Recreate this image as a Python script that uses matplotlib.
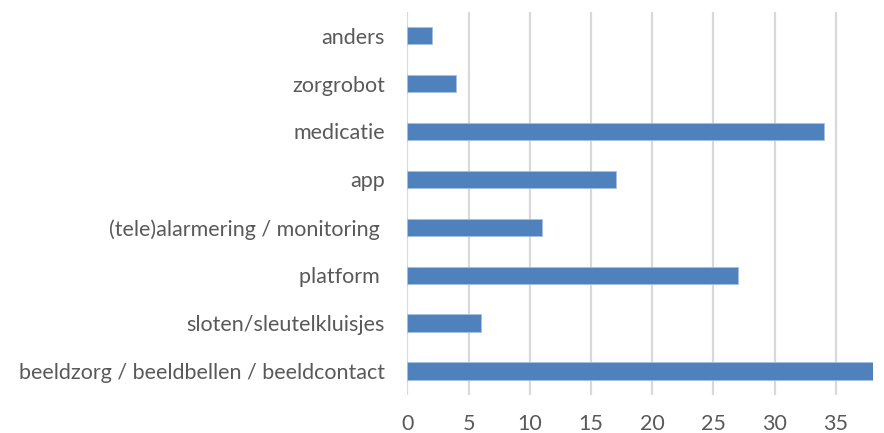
import matplotlib.pyplot as plt

# data, bottom to top
categories = [
    "beeldzorg / beeldbellen / beeldcontact",
    "sloten/sleutelkluisjes",
    "platform ",
    "(tele)alarmering / monitoring ",
    "app",
    "medicatie",
    "zorgrobot",
    "anders",
]
counts = [38, 6, 27, 11, 17, 34, 4, 2]
x_ticks = [0, 5, 10, 15, 20, 25, 30, 35]

plt.rcParams['font.family'] = ['Lato', 'DejaVu Sans']

fig = plt.figure(figsize=(8.84, 4.33), dpi=100)
ax = fig.add_axes([0.4608, 0.088, 0.5264, 0.885])

ax.barh(range(len(categories)), counts, height=0.36,
        color='#4f81bd', edgecolor='#a9c1e0', linewidth=0.6, zorder=3)

ax.set_xlim(0, 38)
ax.set_ylim(-0.5, len(categories) - 0.5)
ax.set_xticks(x_ticks)
ax.set_yticks(range(len(categories)))
ax.set_yticklabels(categories)

ax.grid(axis='x', color='#d9d9d9', linewidth=1.6, zorder=0)
for s in ax.spines.values():
    s.set_visible(False)

ax.tick_params(axis='both', length=0, labelsize=15.5, colors='#595959')
ax.tick_params(axis='y', pad=16)
ax.tick_params(axis='x', pad=14)

fig.savefig('out.png', dpi=100)
